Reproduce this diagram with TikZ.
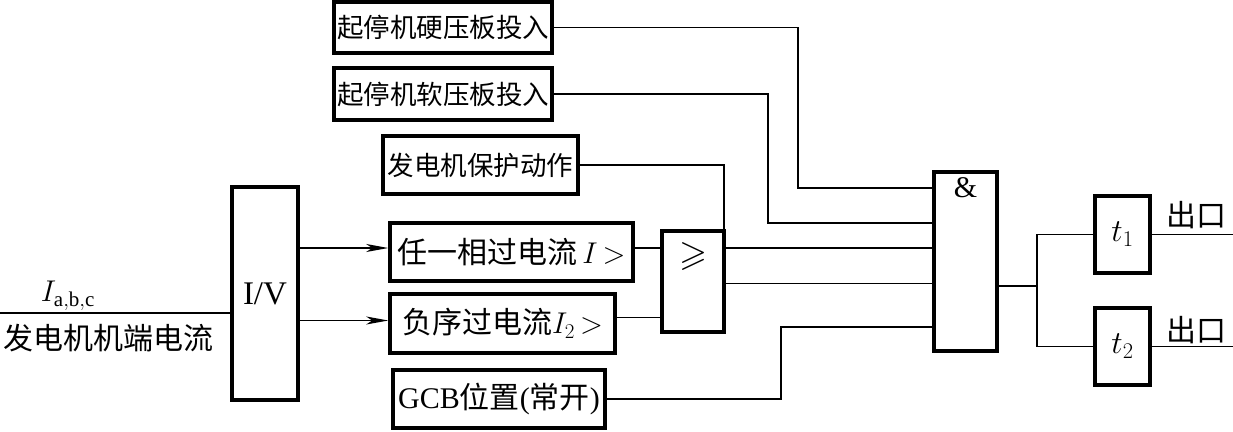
\RequirePackage{fix-cm}
\documentclass[tikz,border=0pt]{standalone}
\usepackage{amssymb}
\usepackage{fontspec}
\setmainfont{Liberation Serif}
\newfontfamily\cjk{Noto Sans CJK SC}
\usetikzlibrary{arrows.meta}
\begin{document}
\begin{tikzpicture}[x=1pt,y=-1pt,
  blk/.style={draw,line width=3.5pt,inner sep=0pt,font=\fontsize{30}{36}\selectfont},
  sm/.style={font=\fontsize{26.5}{32}\selectfont},
  wire/.style={line width=1.4pt},
  arr/.style={wire,-{Stealth[length=22pt,width=8pt,inset=6pt]}},
  lbl/.style={inner sep=0pt,font=\fontsize{30}{36}\selectfont}]
\useasboundingbox (0,0) rectangle (1233,431);
% boxes
\node[blk,sm,minimum width=218pt,minimum height=51pt] (b1) at (443,27.5) {\cjk 起停机硬压板投入};
\node[blk,sm,minimum width=218pt,minimum height=52pt] (b2) at (443,94) {\cjk 起停机软压板投入};
\node[blk,sm,minimum width=195pt,minimum height=58pt] (b3) at (480.5,165) {\cjk 发电机保护动作};
\node[blk,minimum width=243pt,minimum height=58pt] (b4) at (511.5,252) {{\cjk 任一相过电流}\,$I\,{>}$};
\node[blk,minimum width=225pt,minimum height=59pt] (b5) at (502.5,323.5) {{\cjk 负序过电流}$I_2\,{>}$};
\node[blk,minimum width=212pt,minimum height=58pt] (b6) at (499,399) {GCB{\cjk 位置}({\cjk 常开})};
\node[blk,minimum width=66pt,minimum height=213pt,font=\fontsize{33}{38}\selectfont] (iv) at (265,293.5) {I/V};
\node[blk,minimum width=62pt,minimum height=101pt] (ge) at (693,281.5) {};
\node[lbl,font=\fontsize{36}{40}\selectfont] (geS) at (693,256) {$\geqslant$};
\node[blk,minimum width=63pt,minimum height=179pt] (and) at (965.5,261.5) {};
\node[lbl] (andS) at (965.5,188) {\&};
\node[blk,minimum width=55pt,minimum height=77pt,font=\fontsize{32}{38}\selectfont] (t1) at (1122.5,234.5) {$t_1$};
\node[blk,minimum width=55pt,minimum height=77pt,font=\fontsize{32}{38}\selectfont] (t2) at (1122.5,346.5) {$t_2$};
% labels
\node[lbl] (ilab) at (68,296) {$I_{\mathrm{a,b,c}}$};
\node[lbl] (ilab2) at (108,338) {\cjk 发电机机端电流};
\node[lbl] (o1l) at (1196,215) {\cjk 出口};
\node[lbl] (o2l) at (1196,330) {\cjk 出口};
% coordinates
\coordinate (in) at (0,313);
\coordinate (k1) at (798,188);
\coordinate (k2) at (768,223);
\coordinate (k3) at (724,248);
\coordinate (k6) at (781,327);
\coordinate (j) at (1037,286);
\coordinate (oe) at (1233,0);
% wires
\draw[wire] (in) -- (in -| iv.west);
\draw[arr] ([yshift=4pt]b4.west -| iv.east) -- ([yshift=4pt]b4.west);
\draw[arr] ([yshift=3pt]b5.west -| iv.east) -- ([yshift=3pt]b5.west);
\draw[wire] ([yshift=4pt]b4.east) -- ([yshift=4pt]b4.east -| ge.west);
\draw[wire] ([yshift=6pt]b5.east) -- ([yshift=6pt]b5.east -| ge.west);
\draw[wire] (b1.east) -| (k1) -- (k1 -| and.west);
\draw[wire] (b2.east) -| (k2) -- (k2 -| and.west);
\draw[wire] (b3.east) -| (k3) -- (k3 -| and.west);
\draw[wire] ([yshift=-2pt]ge.east) -- ([yshift=-2pt]ge.east -| and.west);
\draw[wire] (b6.east) -| (k6) -- (k6 -| and.west);
\draw[wire] (j -| and.east) -- (j);
\draw[wire] (t1.west) -| (j) |- (t2.west);
\draw[wire] (t1.east) -- (t1.east -| oe);
\draw[wire] (t2.east) -- (t2.east -| oe);
\end{tikzpicture}
\end{document}
